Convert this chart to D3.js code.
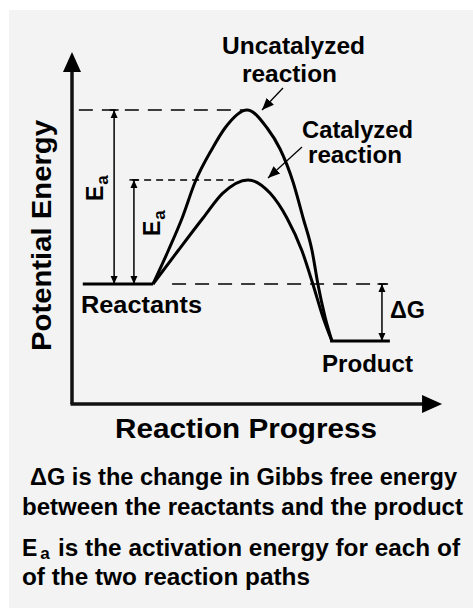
<!DOCTYPE html>
<html>
<head>
<meta charset="UTF-8">
<script src="https://d3js.org/d3.v7.min.js"></script>
<style>
  body { margin: 0; background: #fff; }
  text { font-family: "Liberation Sans", Arial, sans-serif; font-weight: bold; fill: #000; }
</style>
</head>
<body>
<div id="container"></div>
<script>
// reaction progress (0-100) vs potential energy (0-100)
var uncatalyzed = [[22.5,40],[26.7,51],[30.6,62],[34.2,74],[38.9,85],[42.5,92],[48.6,98],
                   [54.2,92],[57.8,85],[61.4,74],[64.2,62],[66.7,51],[68.3,40],[70.3,29],[72.2,21]];
var catalyzed = [[22.5,40],[29.4,51],[36.4,62],[41.9,70.3],[48.9,74.7],[55,70.3],
                 [59.7,62],[63.9,51],[66.9,40],[69.7,29],[72.2,21]];
var reactantLevel = 40, productLevel = 21, uncatPeak = 98, catPeak = 74.7;
var reactantSpan = [3, 22.5];
var productSpan = [71.7, 88.3];
// guide lines: [level, from, to]
var guides = [[uncatPeak, 1.9, 48], [catPeak, 16.7, 45], [reactantLevel, 27.8, 87.8]];
// double arrows: [x, from level, to level]
var spans = [[11.7, reactantLevel, uncatPeak], [17.2, reactantLevel, catPeak], [86.1, productLevel, reactantLevel]];
var captionLines = ["\u0394G is the change in Gibbs free energy",
                    "between the reactants and the product",
                    " is the activation energy for each of",
                    "of the two reaction paths"];

var W = 473, H = 608;
var x = d3.scaleLinear().domain([0, 100]).range([72, 432]);
var y = d3.scaleLinear().domain([0, 100]).range([404, 104]);

var svg = d3.select("#container").append("svg")
  .attr("width", W).attr("height", H);

svg.append("rect").attr("x", 9).attr("y", 10)
  .attr("width", W - 9).attr("height", H - 10).attr("fill", "#f3f3f3");

var defs = svg.append("defs");
// small arrow head with end bar
var m = defs.append("marker").attr("id", "cap")
  .attr("viewBox", "-10 -6 12 12").attr("refX", 0).attr("refY", 0)
  .attr("markerUnits", "userSpaceOnUse").attr("markerWidth", 12).attr("markerHeight", 12)
  .attr("orient", "auto-start-reverse");
m.append("path").attr("d", "M-8,-3.5L0,0L-8,3.5Z").attr("fill", "#000");
m.append("path").attr("d", "M0,-4.5L0,4.5").attr("stroke", "#000").attr("stroke-width", 1.5);
// pointer arrow head
defs.append("marker").attr("id", "ptr")
  .attr("viewBox", "-12 -6 13 12").attr("refX", 0).attr("refY", 0)
  .attr("markerUnits", "userSpaceOnUse").attr("markerWidth", 13).attr("markerHeight", 12)
  .attr("orient", "auto")
  .append("path").attr("d", "M-12,-5L0,0L-12,5Z").attr("fill", "#000");

// axes
var xEnd = 102.8, yEnd = 117.3;
svg.append("line").attr("x1", x(0)).attr("y1", y(0)).attr("x2", x(0)).attr("y2", y(yEnd) + 18)
  .attr("stroke", "#111").attr("stroke-width", 3.5);
svg.append("line").attr("x1", x(0) - 1.5).attr("y1", y(0)).attr("x2", x(xEnd) - 18).attr("y2", y(0))
  .attr("stroke", "#111").attr("stroke-width", 3.5);
svg.append("path")
  .attr("d", "M" + x(0) + "," + y(yEnd) + "L" + (x(0) + 9) + "," + (y(yEnd) + 20) + "L" + (x(0) - 9) + "," + (y(yEnd) + 20) + "Z")
  .attr("fill", "#000");
svg.append("path")
  .attr("d", "M" + x(xEnd) + "," + y(0) + "L" + (x(xEnd) - 20) + "," + (y(0) - 9) + "L" + (x(xEnd) - 20) + "," + (y(0) + 9) + "Z")
  .attr("fill", "#000");

// dashed guides
svg.selectAll(".guide").data(guides).enter().append("line")
  .attr("class", "guide")
  .attr("x1", function(d){ return x(d[1]); }).attr("x2", function(d){ return x(d[2]); })
  .attr("y1", function(d){ return y(d[0]); }).attr("y2", function(d){ return y(d[0]); })
  .attr("stroke", "#000").attr("stroke-width", 1.5)
  .attr("stroke-dasharray", function(d, i){ return i == 1 ? "7,5" : "14,9"; });

// double arrows
svg.selectAll(".span").data(spans).enter().append("line")
  .attr("class", "span")
  .attr("x1", function(d){ return x(d[0]); }).attr("x2", function(d){ return x(d[0]); })
  .attr("y1", function(d){ return y(d[1]); }).attr("y2", function(d){ return y(d[2]); })
  .attr("stroke", "#000").attr("stroke-width", 1.5)
  .attr("marker-start", "url(#cap)").attr("marker-end", "url(#cap)");

// energy levels
svg.append("line").attr("x1", x(reactantSpan[0])).attr("x2", x(reactantSpan[1]))
  .attr("y1", y(reactantLevel)).attr("y2", y(reactantLevel))
  .attr("stroke", "#000").attr("stroke-width", 3);
svg.append("line").attr("x1", x(productSpan[0])).attr("x2", x(productSpan[1]))
  .attr("y1", y(productLevel)).attr("y2", y(productLevel))
  .attr("stroke", "#000").attr("stroke-width", 3);

// reaction curves
var line = d3.line().x(function(d){ return x(d[0]); }).y(function(d){ return y(d[1]); })
  .curve(d3.curveMonotoneX);
svg.selectAll(".curve").data([uncatalyzed, catalyzed]).enter().append("path")
  .attr("class", "curve").attr("d", line)
  .attr("fill", "none").attr("stroke", "#000").attr("stroke-width", 3).attr("stroke-linejoin", "round");

// pointers
svg.append("line").attr("x1", 283).attr("y1", 88).attr("x2", 262).attr("y2", 110)
  .attr("stroke", "#000").attr("stroke-width", 1.3).attr("marker-end", "url(#ptr)");
svg.append("line").attr("x1", 302).attr("y1", 147).attr("x2", 268).attr("y2", 178)
  .attr("stroke", "#000").attr("stroke-width", 1.3).attr("marker-end", "url(#ptr)");

function label(t, px, py, len, size, anchor) {
  return svg.append("text").attr("x", px).attr("y", py)
    .attr("font-size", size).attr("text-anchor", anchor || "start")
    .attr("textLength", len).attr("lengthAdjust", "spacingAndGlyphs")
    .text(t);
}
label("Uncatalyzed", 222, 54, 143, 23);
label("reaction", 242, 82, 95, 23);
label("Catalyzed", 302, 138, 111, 23);
label("reaction", 308, 163, 94, 23);
label("Reactants", 81, 313, 121, 23);
label("Product", 322, 372, 91, 23);
label("\u0394G", 390, 318, 35, 23);
label("Reaction Progress", 115, 438, 262, 27);

svg.append("text").attr("transform", "translate(51,351) rotate(-90)")
  .attr("font-size", 28).attr("textLength", 231).attr("lengthAdjust", "spacingAndGlyphs")
  .text("Potential Energy");

// rotated E_a labels
[[103, 201], [160, 236]].forEach(function(p) {
  var t = svg.append("text").attr("transform", "translate(" + p[0] + "," + p[1] + ") rotate(-90)")
    .attr("font-size", 23);
  t.append("tspan").text("E");
  t.append("tspan").attr("dx", 1).attr("dy", 5).attr("font-size", 17).text("a");
});

// caption
label(captionLines[0], 30, 485, 427, 23);
label(captionLines[1], 22, 515, 441, 23);
var c3 = svg.append("text").attr("x", 22).attr("y", 556).attr("font-size", 23);
c3.append("tspan").text("E");
c3.append("tspan").attr("dx", 3).attr("dy", 3).attr("font-size", 17).text("a");
c3.append("tspan").attr("x", 58).attr("y", 556)
  .attr("textLength", 402).attr("lengthAdjust", "spacingAndGlyphs").text(captionLines[2].trim());
label(captionLines[3], 22, 585, 288, 23);
</script>
</body>
</html>
